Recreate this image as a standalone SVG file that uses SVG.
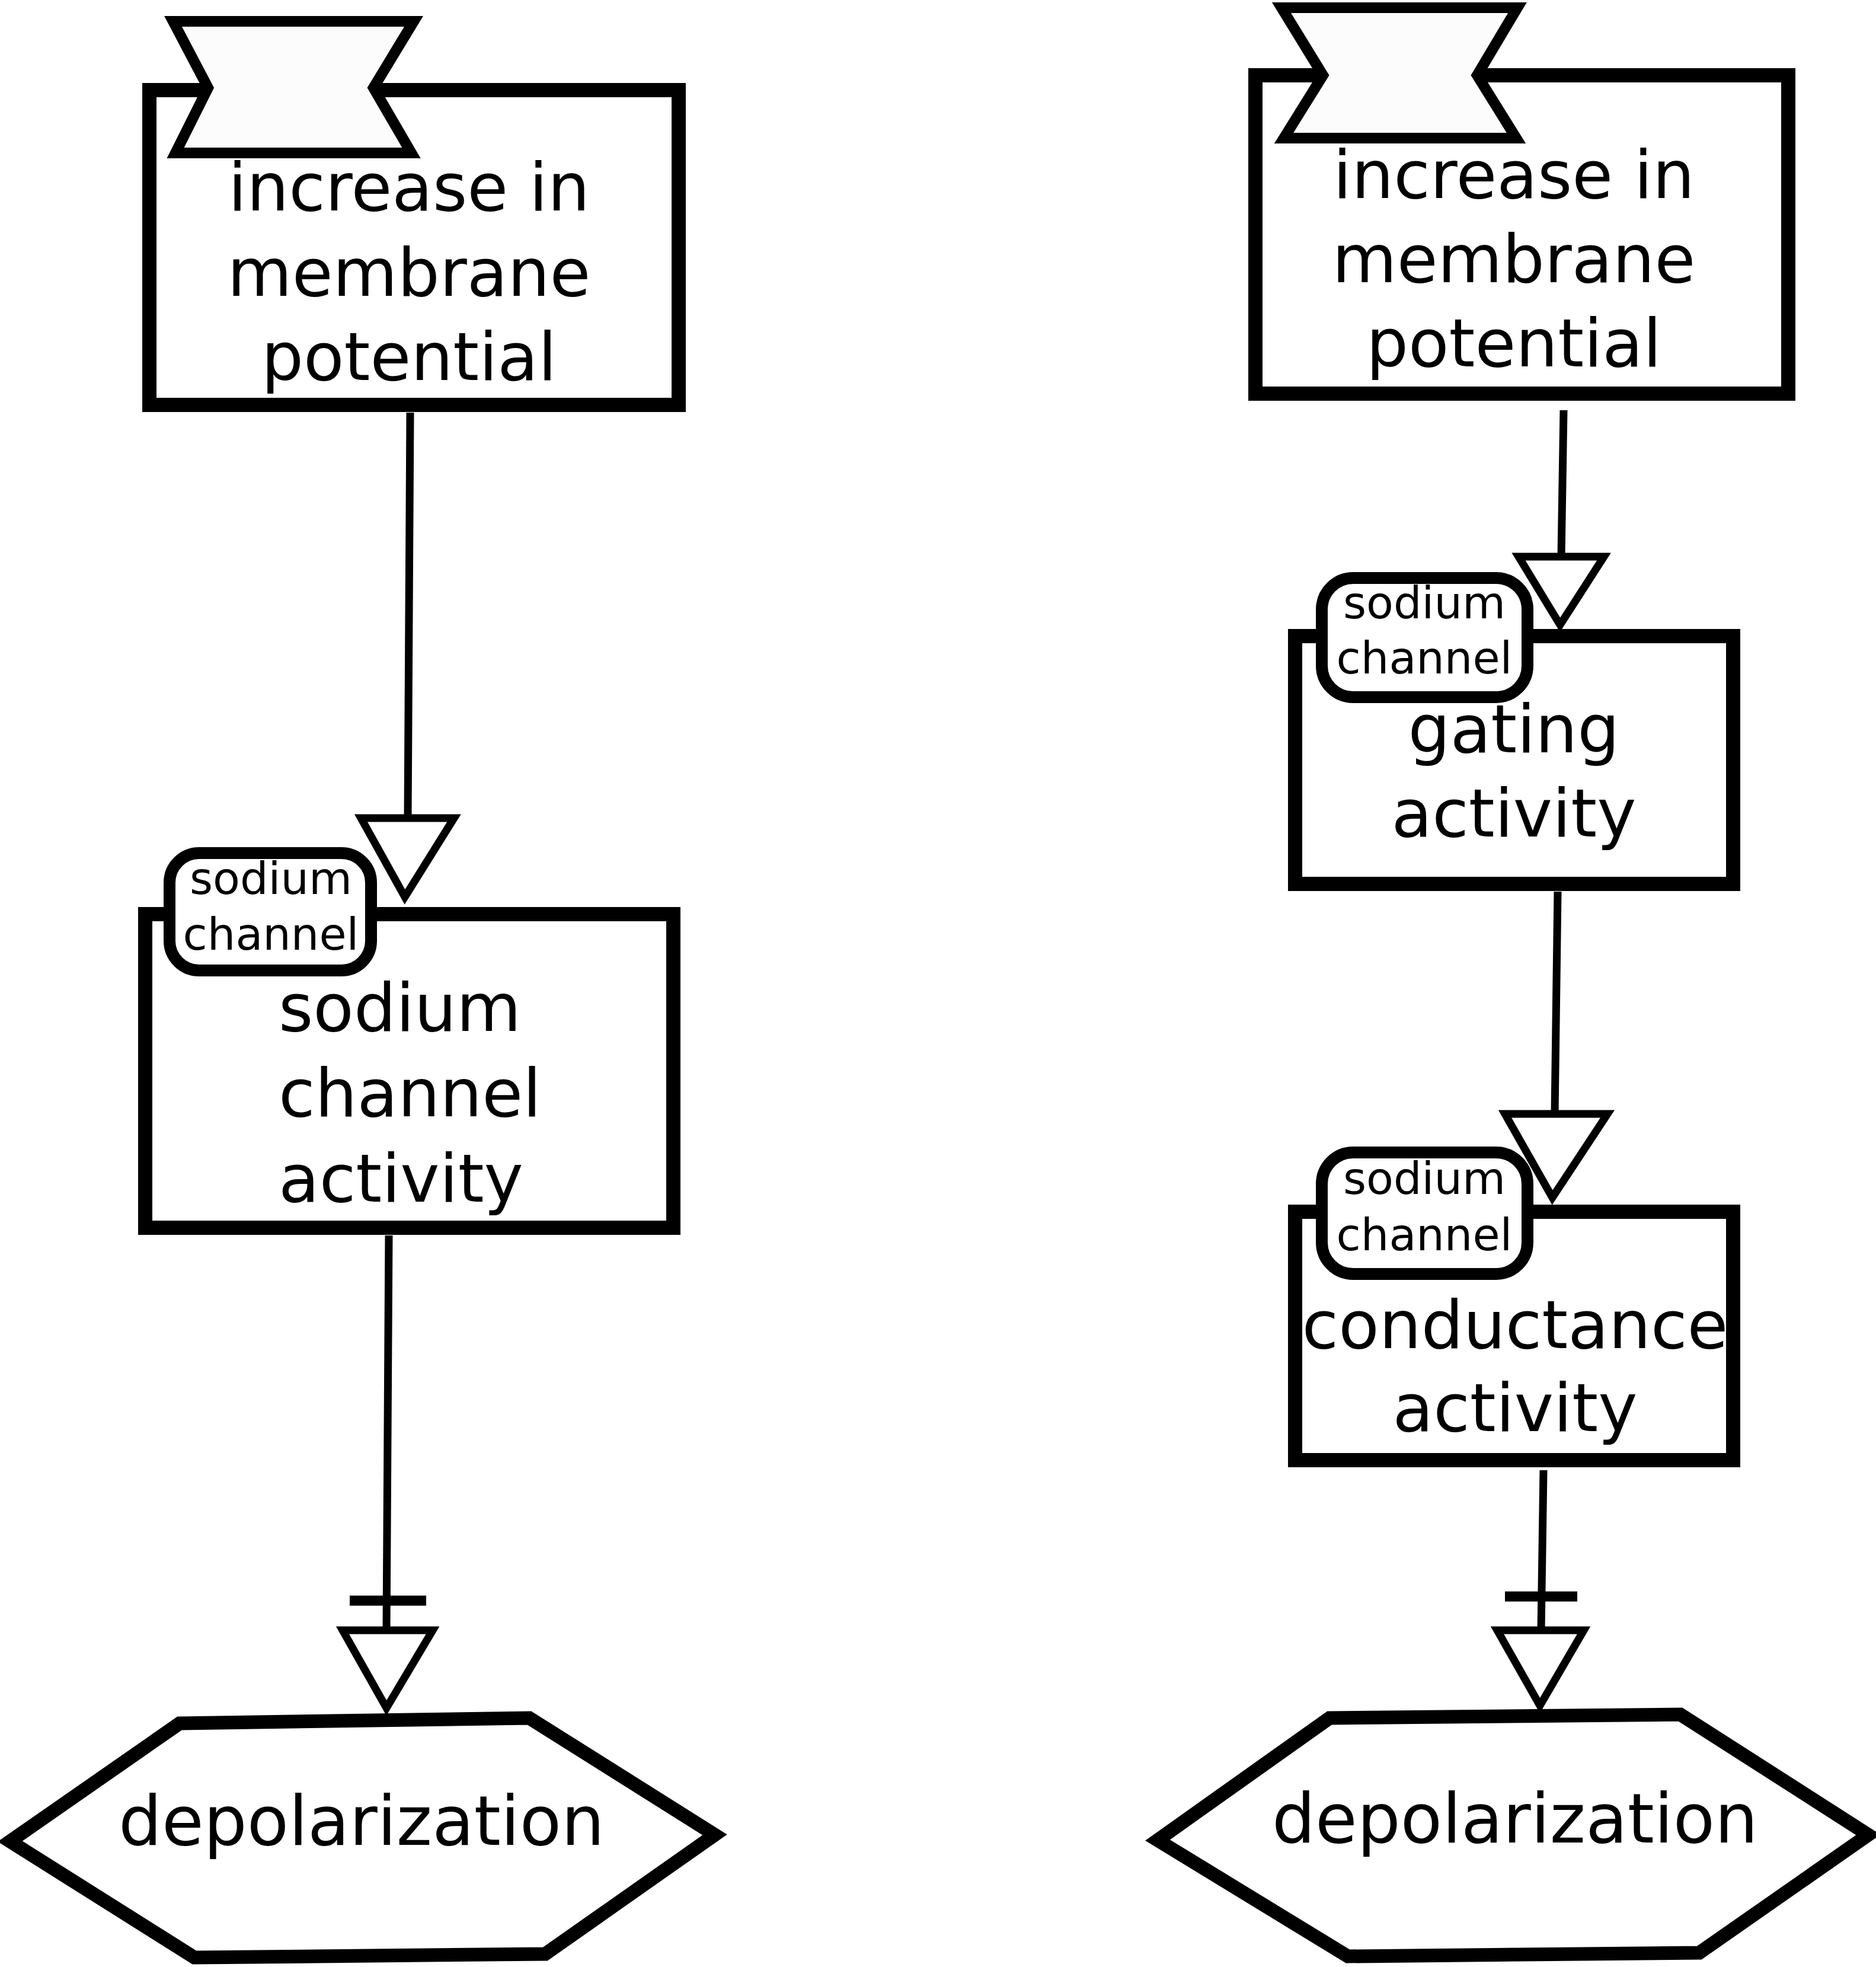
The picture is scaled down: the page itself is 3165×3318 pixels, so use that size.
<svg xmlns="http://www.w3.org/2000/svg" width="3165" height="3318" viewBox="0 0 3165 3318">
<style>
.box{fill:#fff;stroke:#000;stroke-width:24}
.tag{fill:#fcfcfc;stroke:#000;stroke-width:18;stroke-linejoin:miter}
.uoi{fill:#fff;stroke:#000;stroke-width:20}
.hex{fill:#fff;stroke:#000;stroke-width:23;stroke-linejoin:miter}
.edge{fill:none;stroke:#000;stroke-width:13}
.head{fill:#fff;stroke:#000;stroke-width:13;stroke-linejoin:miter}
.bar{fill:none;stroke:#000;stroke-width:17}
.t{font-family:"DejaVu Sans","Liberation Sans",sans-serif;font-size:112px;fill:#000}
.s{font-family:"DejaVu Sans","Liberation Sans",sans-serif;font-size:75px;fill:#000;text-anchor:middle}
.m{text-anchor:middle}
.d{font-size:115px}
</style>
<rect width="3165" height="3318" fill="#fff"/>
<g id="connectors">
  <line class="edge" x1="692" y1="696" x2="688" y2="1380"/>
  <polygon class="head" points="609,1380 766,1380 683,1513"/>
  <line class="edge" x1="656" y1="2084" x2="652" y2="2750"/>
  <line class="bar" x1="590" y1="2700" x2="719" y2="2700"/>
  <polygon class="head" points="578,2750 730,2750 652,2881"/>
  <line class="edge" x1="2638" y1="692" x2="2634" y2="939"/>
  <polygon class="head" points="2562,939 2706,939 2632,1054"/>
  <line class="edge" x1="2628" y1="1504" x2="2623" y2="1879"/>
  <polygon class="head" points="2539,1879 2712,1879 2619,2020"/>
  <line class="edge" x1="2604" y1="2480" x2="2600" y2="2750"/>
  <line class="bar" x1="2539" y1="2693" x2="2661" y2="2693"/>
  <polygon class="head" points="2526,2750 2672,2750 2598,2877"/>
</g>
<g id="node-increase-left">
  <rect class="box" x="252" y="152" width="893" height="531"/>
  <polygon class="tag" points="292,36 698,36 630,148 694,258 296,258 351,148"/>
  <text class="t m" x="690" y="355">increase in</text>
  <text class="t m" x="690" y="499">membrane</text>
  <text class="t m" x="690" y="641">potential</text>
</g>
<g id="node-sodium-channel-activity">
  <rect class="box" x="245" y="1542" width="891" height="529"/>
  <rect class="uoi" x="286" y="1439" width="340" height="198" rx="50" ry="50"/>
  <text class="s" x="457" y="1508">sodium</text>
  <text class="s" x="457" y="1602">channel</text>
  <text class="t" x="470" y="1739">sodium</text>
  <text class="t" x="470" y="1883">channel</text>
  <text class="t" x="470" y="2027">activity</text>
</g>
<g id="node-depolarization-left">
  <polygon class="hex" points="303,2907 893,2898 1206,3095 920,3296 328,3302 17,3106"/>
  <text class="t m d" x="610" y="3112">depolarization</text>
</g>
<g id="node-increase-right">
  <rect class="box" x="2118" y="127" width="899" height="537"/>
  <polygon class="tag" points="2162,13 2560,13 2492,127 2558,233 2166,233 2232,127"/>
  <text class="t m" x="2554" y="334">increase in</text>
  <text class="t m" x="2554" y="476">membrane</text>
  <text class="t m" x="2554" y="618">potential</text>
</g>
<g id="node-gating-activity">
  <rect class="box" x="2185" y="1073" width="739" height="418"/>
  <rect class="uoi" x="2230" y="975" width="347" height="201" rx="53" ry="53"/>
  <text class="s" x="2403" y="1043">sodium</text>
  <text class="s" x="2403" y="1136">channel</text>
  <text class="t m" x="2554" y="1269">gating</text>
  <text class="t m" x="2554" y="1411">activity</text>
</g>
<g id="node-conductance-activity">
  <rect class="box" x="2185" y="2044" width="739" height="419"/>
  <rect class="uoi" x="2230" y="1944" width="347" height="205" rx="53" ry="53"/>
  <text class="s" x="2403" y="2014">sodium</text>
  <text class="s" x="2403" y="2109">channel</text>
  <text class="t m" x="2556" y="2274">conductance</text>
  <text class="t m" x="2556" y="2414">activity</text>
</g>
<g id="node-depolarization-right">
  <polygon class="hex" points="2243,2898 2835,2892 3152,3095 2867,3294 2274,3300 1953,3104"/>
  <text class="t m d" x="2556" y="3108">depolarization</text>
</g>
</svg>
